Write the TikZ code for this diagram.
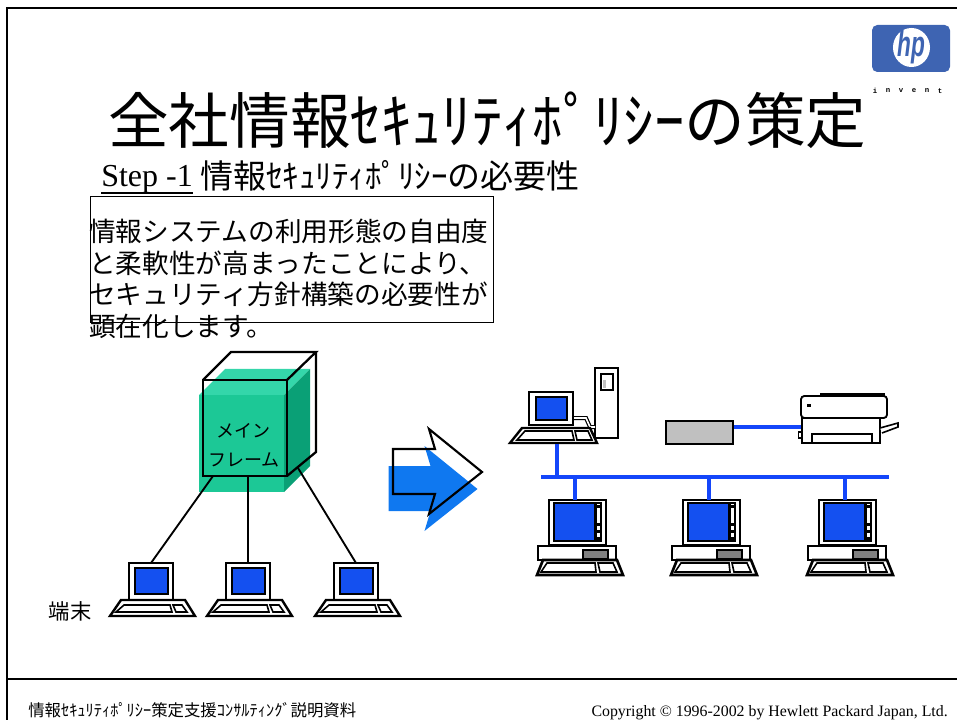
\documentclass[tikz,border=0pt]{standalone}
\usepackage{fontspec}
\setmainfont{Liberation Serif}
\newfontfamily\jp{Noto Sans CJK JP}
\newfontfamily\hpsans{Liberation Sans}
\newfontfamily\hpmono{Liberation Mono}
\usetikzlibrary{calc}

\definecolor{scrblue}{RGB}{20,80,240}
\definecolor{lanblue}{RGB}{20,70,250}
\definecolor{mffront}{RGB}{28,200,150}
\definecolor{mftop}{RGB}{52,214,170}
\definecolor{mfside}{RGB}{10,160,118}
\definecolor{hpblue}{RGB}{62,100,178}
\definecolor{arrowblue}{RGB}{15,120,240}
\definecolor{boxgray}{RGB}{192,192,192}
\definecolor{slotgray}{RGB}{128,128,128}

\tikzset{
  frameline/.style={line width=1.5pt},
  lan/.style={lanblue, line width=2.8pt},
  wire/.style={line width=1.4pt},
  jptext/.style={inner sep=0pt, anchor=base west},
  % simple terminal: monitor and keyboard, origin at monitor top centre
  oldterm/.pic={
    \coordinate (-top) at (0,0);
    \draw[fill=white, line width=1.8pt] (-22,0) rectangle (22,37);
    \draw[fill=scrblue, line width=1.4pt] (-16,5) rectangle (17,31);
    \draw[fill=white, line width=1.8pt] (-30,37) -- (34,37) -- (44,53) -- (-41,53) -- cycle;
    \draw[line width=1.2pt] (-27,42) -- (19,42) -- (21,49) -- (-35,49) -- cycle;
    \draw[line width=1.2pt] (22,42) -- (31,42) -- (36,49) -- (25,49) -- cycle;
  },
  % desktop PC: monitor, system unit and keyboard, origin at monitor top left
  deskpc/.pic={
    \coordinate (-top) at (26,0);
    \draw[fill=white, line width=2pt] (0,0) rectangle (57,45);
    \draw[fill=scrblue, line width=1.1pt] (5,3) rectangle (46,41);
    \draw[fill=white, line width=0.8pt] (47,3) rectangle (52,41);
    \foreach \yy in {5,23,30,37} \fill (47.5,\yy) rectangle (51.5,\yy+2.5);
    \draw[fill=white, line width=1.8pt] (-11,46) rectangle (67,60);
    \draw[fill=slotgray, line width=1.1pt] (34,50) rectangle (59,59);
    \draw[fill=white, line width=2pt] (-6,60) -- (68,60) -- (74,75) -- (-12,75) -- cycle;
    \draw[line width=1.2pt] (-2,63) -- (46,63) -- (47,72) -- (-8,72) -- cycle;
    \draw[line width=1.2pt] (49,63) -- (64,63) -- (68,72) -- (51,72) -- cycle;
  }
}

\begin{document}
\begin{tikzpicture}[x=0.75pt, y=-0.75pt, line join=miter]
\useasboundingbox (0,0) rectangle (957,720);

% slide frame
\draw[frameline] (7,721) -- (7,8) -- (957,8);
\draw[frameline] (7,679) -- (957,679);

% logo
\fill[hpblue, rounded corners=4pt] (872,25) rectangle (950,72);
\fill[white] (911.5,47.5) ellipse [x radius=18.5, y radius=19.5];
\node[inner sep=0pt, text=hpblue, font=\hpsans\bfseries\itshape\fontsize{20}{20}\selectfont] (hp) at (911,47)
  {\scalebox{0.85}[1.35]{hp}};
\foreach \ch [count=\i] in {i,n,v,e,n,t}
  \node[inner sep=0pt, font=\hpmono\bfseries\fontsize{5.5}{6}\selectfont] (inv\i) at (862+13*\i,91) {\ch};

% headings
\node[jptext, font={\jp\fontsize{45.5}{54}\selectfont}] (title) at (108,144)
  {全社情報ｾｷｭﾘﾃｨﾎﾟﾘｼｰの策定};
\node[jptext, font={\fontsize{24}{28}\selectfont}] (steplbl) at (101,187) {Step -1};
\draw[line width=0.9pt] ($(steplbl.base west)+(0,6)$) -- ($(steplbl.base east)+(0,6)$);
\node[jptext, font={\jp\fontsize{24.75}{30}\selectfont}] (steptxt) at (200,189)
  {情報ｾｷｭﾘﾃｨﾎﾟﾘｼｰの必要性};

% note box
\node[draw, line width=1.1pt, inner sep=0pt, anchor=north west,
      minimum width=302.25pt, minimum height=94.5pt] (notebox) at (90,196) {};
\begin{scope}[every node/.style={jptext, font={\jp\fontsize{20}{24}\selectfont}}]
  \node (n1) at (89,242)   {情報システムの利用形態の自由度};
  \node (n2) at (89,273.5) {と柔軟性が高まったことにより、};
  \node (n3) at (89,305)   {セキュリティ方針構築の必要性が};
  \node (n4) at (89,336.5) {顕在化します。};
\end{scope}

% mainframe cube
\fill[mftop]   (199,395) -- (225,369) -- (310,369) -- (284,395) -- cycle;
\fill[mfside]  (284,395) -- (310,369) -- (310,466) -- (284,492) -- cycle;
\fill[mffront] (199,395) rectangle (284,492);
\draw[line width=1.7pt] (203,380) rectangle (287,476);
\draw[line width=1.7pt] (203,380) -- (231,352) -- (316,352) -- (287,380);
\draw[line width=1.7pt] (316,352) -- (316,452) -- (287,476);
\node[inner sep=0pt, font={\jp\fontsize{13.5}{16}\selectfont}] (mf1) at (243,431) {メイン};
\node[inner sep=0pt, font={\jp\fontsize{13.5}{16}\selectfont}] (mf2) at (244,460) {フレーム};
\coordinate (mfL) at (213,476);
\coordinate (mfM) at (248,476);
\coordinate (mfR) at (298,468);

% terminals
\pic (t1) at (151,563) {oldterm};
\pic (t2) at (248,563) {oldterm};
\pic (t3) at (356,563) {oldterm};
\draw[wire] (mfL) -- (t1-top);
\draw[wire] (mfM) -- (t2-top);
\draw[wire] (mfR) -- (t3-top);
\node[inner sep=0pt, font={\jp\fontsize{16}{18}\selectfont}] (tanmatsu) at (70,611) {端末};

% transition arrow
\def\arrowshape{(393,449) -- (435,449) -- (429,429) -- (482,472) -- (429,514) -- (435,494) -- (393,494) -- cycle}
\fill[arrowblue, shift={(-4.5,17)}] \arrowshape;
\draw[line width=1.6pt] \arrowshape;

% LAN
\coordinate (busL) at (541,477);
\coordinate (busR) at (889,477);
\draw[lan] (busL) -- (busR);

% workstation with tower
\draw[fill=white, line width=1.8pt] (595,368) rectangle (618,438);
\draw[line width=1.2pt] (601,374) rectangle (613,390);
\fill[boxgray] (603,380) rectangle (606,388);
\draw[line width=0.9pt, double, double distance=1.2pt] (573,418) -- (586,418) -- (590,427) -- (595,427);
\draw[fill=white, line width=2pt] (529,392) rectangle (573,425);
\draw[fill=scrblue, line width=1.2pt] (536,397) rectangle (567,420);
\draw[fill=white, line width=1.8pt] (522,428) -- (590,428) -- (597,443) -- (510,443) -- cycle;
\draw[line width=1.2pt] (525,431) -- (572,431) -- (574,440) -- (517,440) -- cycle;
\draw[line width=1.2pt] (575,431) -- (588,431) -- (592,440) -- (577,440) -- cycle;
\coordinate (ws-port) at (557,444);
\draw[lan] (ws-port) -- (ws-port |- busL);

% hub and printer
\node[draw, fill=boxgray, line width=1.4pt, inner sep=0pt, anchor=north west,
      minimum width=50.25pt, minimum height=17.25pt] (hub) at (665,420) {};
\fill (820,393) rectangle (885,397.5);
\draw[fill=white, line width=1.4pt, rounded corners=2.5pt] (801,396) rectangle (887,418);
\draw[fill=white, line width=1.4pt] (802,418) rectangle (880,443);
\draw[line width=1.2pt] (812,434) rectangle (872,443);
\draw[fill=white, line width=1.2pt] (880,428) -- (898,423) -- (898,427) -- (882,433);
\draw[fill=white, line width=1.1pt] (798.5,432) rectangle (802,438);
\fill (807,403.5) rectangle (810.5,407);
\coordinate (prn-port) at (801,427);
\draw[lan] (hub.east |- prn-port) -- (prn-port);

% desktop PCs on the LAN
\pic (p1) at (549,500) {deskpc};
\pic (p2) at (683,500) {deskpc};
\pic (p3) at (819,500) {deskpc};
\foreach \p in {p1,p2,p3}
  \draw[lan] (\p-top |- busL) -- (\p-top);

% footer
\node[jptext, font={\jp\fontsize{12.3}{14}\selectfont}] (foot) at (28,716)
  {情報ｾｷｭﾘﾃｨﾎﾟﾘｼｰ策定支援ｺﾝｻﾙﾃｨﾝｸﾞ説明資料};
\node[inner sep=0pt, anchor=base east, font={\fontsize{11.9}{14}\selectfont}] (copy) at (948,716)
  {Copyright © 1996-2002 by Hewlett Packard Japan, Ltd.};
\end{tikzpicture}
\end{document}
